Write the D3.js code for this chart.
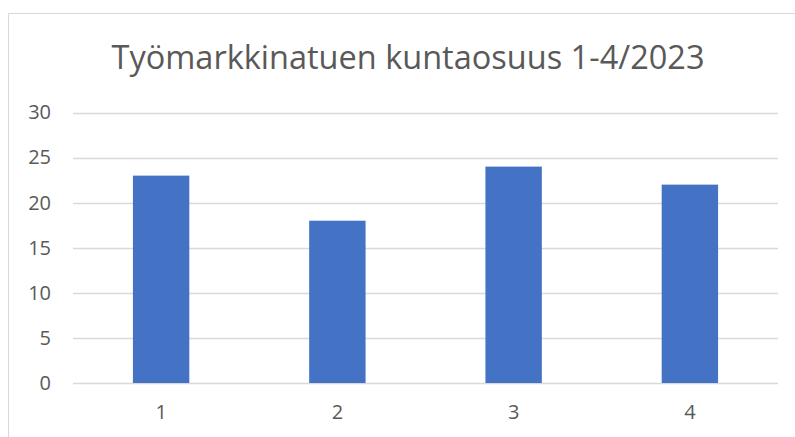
<!DOCTYPE html>
<html>
<head>
<meta charset="utf-8">
<script src="https://cdn.jsdelivr.net/npm/d3@7"></script>
<style>
  body { margin: 0; background: #fff; }
  svg { display: block; font-family: "Open Sans", sans-serif; }
</style>
</head>
<body>
<div class="chartContainer"></div>
<script>
const categories = ["1", "2", "3", "4"]
const values = [23, 18, 24, 22]
const yTicks = [0, 5, 10, 15, 20, 25, 30]
const title = "Työmarkkinatuen kuntaosuus 1-4/2023"

const width = 795, height = 437
const margin = {top: 112.5, right: 17, bottom: 54, left: 73}

let svg = d3.select(".chartContainer").append("svg")
    .attr("width", width)
    .attr("height", height)

// chart frame (runs off the right and bottom edge)
svg.append("rect")
   .attr("x", 8.5).attr("y", 13.5)
   .attr("width", 800).attr("height", 440)
   .attr("fill", "none")
   .attr("stroke", "#d9d9d9")

svg.append("text")
   .attr("x", 408)
   .attr("y", 69)
   .attr("text-anchor", "middle")
   .attr("fill", "#595959")
   .attr("font-size", 32.5)
   .text(title)

const xScale = d3.scaleBand()
    .domain(categories)
    .range([margin.left, width - margin.right])
    .paddingInner(0.68)
    .paddingOuter(0.34)

const yScale = d3.scaleLinear()
    .domain([0, 30])
    .range([height - margin.bottom, margin.top])

// gridlines
svg.append("g")
   .selectAll("line")
   .data(yTicks)
   .enter()
   .append("line")
   .attr("x1", margin.left)
   .attr("x2", width - margin.right)
   .attr("y1", d => Math.round(yScale(d)) + 0.5)
   .attr("y2", d => Math.round(yScale(d)) + 0.5)
   .attr("stroke", "#d9d9d9")
   .attr("stroke-width", 1.3)

svg.selectAll("rect.bar")
   .data(values)
   .enter()
   .append("rect")
   .attr("class", "bar")
   .attr("fill", "#4472c4")
   .attr("x", (d, i) => xScale(categories[i]))
   .attr("y", d => yScale(d))
   .attr("width", xScale.bandwidth())
   .attr("height", d => yScale(0) - yScale(d))

const yAxis = d3.axisLeft(yScale).tickValues(yTicks).tickSize(0).tickPadding(22)
const gy = svg.append("g")
   .attr("transform", `translate(${margin.left},0)`)
   .call(yAxis)
gy.select(".domain").remove()
gy.selectAll("text").attr("font-size", 20).attr("fill", "#595959")
   .attr("font-family", "Open Sans, sans-serif")

const xAxis = d3.axisBottom(xScale).tickSize(0).tickPadding(22)
const gx = svg.append("g")
   .attr("transform", `translate(0,${height - margin.bottom})`)
   .call(xAxis)
gx.select(".domain").remove()
gx.selectAll("text").attr("font-size", 20).attr("fill", "#595959")
   .attr("font-family", "Open Sans, sans-serif")
</script>
</body>
</html>
